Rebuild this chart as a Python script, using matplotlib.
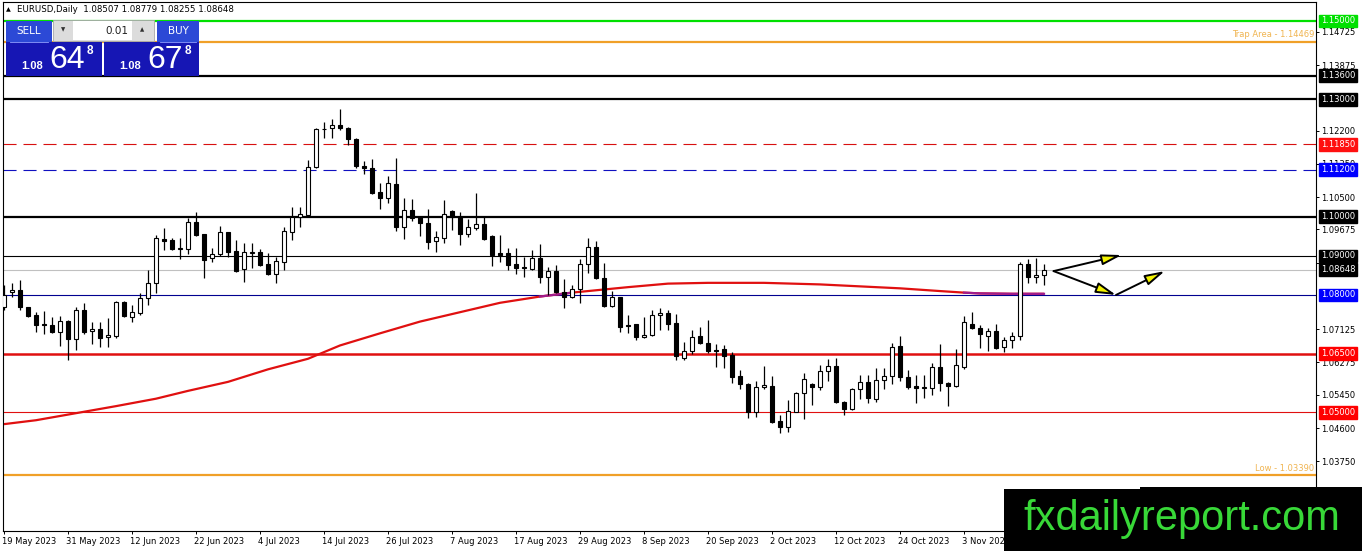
import numpy as np
import matplotlib
matplotlib.use('Agg')
import matplotlib.pyplot as plt
from matplotlib.patches import Rectangle
from matplotlib.transforms import blended_transform_factory

plt.rcParams['lines.scale_dashes'] = False

# EURUSD daily bars, one per weekday from 19 May 2023 to 17 Nov 2023
opens = [1.0769, 1.0807, 1.0813, 1.0769, 1.0748, 1.0725, 1.0723, 1.0706, 1.0734, 1.0687,
         1.0762, 1.0707, 1.0712, 1.0692, 1.0695, 1.0781, 1.0745, 1.0755, 1.0792, 1.0830,
         1.0944, 1.0940, 1.0917, 1.0917, 1.0986, 1.0956, 1.0894, 1.0904, 1.0960, 1.0912,
         1.0866, 1.0907, 1.0909, 1.0879, 1.0853, 1.0885, 1.0962, 1.0998, 1.1004, 1.1128,
         1.1223, 1.1226, 1.1234, 1.1226, 1.1198, 1.1130, 1.1124, 1.1062, 1.1049, 1.1083,
         1.0974, 1.1017, 1.0998, 1.0983, 1.0938, 1.0946, 1.1015, 1.0998, 1.0955, 1.0972,
         1.0981, 1.0951, 1.0906, 1.0906, 1.0878, 1.0871, 1.0866, 1.0894, 1.0845, 1.0862,
         1.0808, 1.0794, 1.0815, 1.0879, 1.0922, 1.0843, 1.0772, 1.0794, 1.0723, 1.0725,
         1.0693, 1.0699, 1.0749, 1.0753, 1.0728, 1.0640, 1.0658, 1.0694, 1.0678, 1.0660,
         1.0661, 1.0647, 1.0593, 1.0573, 1.0502, 1.0564, 1.0567, 1.0478, 1.0463, 1.0502,
         1.0549, 1.0573, 1.0566, 1.0606, 1.0619, 1.0527, 1.0508, 1.0560, 1.0578, 1.0533,
         1.0583, 1.0593, 1.0670, 1.0591, 1.0568, 1.0563, 1.0562, 1.0615, 1.0576, 1.0567,
         1.0617, 1.0726, 1.0715, 1.0696, 1.0708, 1.0666, 1.0685, 1.0695, 1.0879, 1.0845,
         1.08507]
highs = [1.0826, 1.0830, 1.0838, 1.0770, 1.0757, 1.0759, 1.0745, 1.0746, 1.0736, 1.0770,
         1.0779, 1.0732, 1.0732, 1.0740, 1.0785, 1.0785, 1.0774, 1.0804, 1.0864, 1.0953,
         1.0970, 1.0945, 1.0946, 1.0996, 1.1011, 1.0957, 1.0919, 1.0976, 1.0962, 1.0940,
         1.0932, 1.0934, 1.0917, 1.0906, 1.0898, 1.0974, 1.1026, 1.1026, 1.1144, 1.1226,
         1.1243, 1.1250, 1.1275, 1.1230, 1.1200, 1.1142, 1.1147, 1.1085, 1.1105, 1.1149,
         1.1047, 1.1044, 1.1000, 1.1020, 1.0963, 1.1043, 1.1016, 1.1013, 1.0993, 1.1061,
         1.1002, 1.0952, 1.0953, 1.0919, 1.0919, 1.0898, 1.0915, 1.0930, 1.0871, 1.0877,
         1.0840, 1.0826, 1.0892, 1.0945, 1.0939, 1.0881, 1.0810, 1.0796, 1.0749, 1.0727,
         1.0743, 1.0761, 1.0768, 1.0761, 1.0751, 1.0681, 1.0710, 1.0717, 1.0736, 1.0674,
         1.0672, 1.0655, 1.0608, 1.0575, 1.0580, 1.0619, 1.0593, 1.0493, 1.0532, 1.0551,
         1.0600, 1.0576, 1.0621, 1.0636, 1.0638, 1.0528, 1.0563, 1.0595, 1.0595, 1.0614,
         1.0614, 1.0677, 1.0695, 1.0608, 1.0596, 1.0596, 1.0625, 1.0675, 1.0577, 1.0661,
         1.0746, 1.0757, 1.0723, 1.0715, 1.0726, 1.0693, 1.0706, 1.0885, 1.0891, 1.0895,
         1.08779]
lows = [1.0762, 1.0794, 1.0762, 1.0743, 1.0706, 1.0700, 1.0704, 1.0670, 1.0634, 1.0660,
        1.0700, 1.0674, 1.0668, 1.0668, 1.0690, 1.0743, 1.0732, 1.0750, 1.0774, 1.0804,
        1.0915, 1.0914, 1.0891, 1.0905, 1.0950, 1.0844, 1.0885, 1.0900, 1.0896, 1.0858,
        1.0834, 1.0868, 1.0875, 1.0850, 1.0831, 1.0864, 1.0940, 1.0974, 1.0998, 1.1125,
        1.1200, 1.1202, 1.1222, 1.1183, 1.1125, 1.1108, 1.1058, 1.1020, 1.1036, 1.0964,
        1.0942, 1.0990, 1.0951, 1.0917, 1.0911, 1.0934, 1.0966, 1.0928, 1.0949, 1.0966,
        1.0940, 1.0874, 1.0884, 1.0864, 1.0853, 1.0845, 1.0864, 1.0830, 1.0800, 1.0806,
        1.0766, 1.0792, 1.0780, 1.0855, 1.0840, 1.0770, 1.0770, 1.0706, 1.0702, 1.0685,
        1.0690, 1.0695, 1.0710, 1.0710, 1.0634, 1.0634, 1.0650, 1.0674, 1.0653, 1.0617,
        1.0614, 1.0576, 1.0560, 1.0486, 1.0487, 1.0559, 1.0474, 1.0448, 1.0451, 1.0500,
        1.0482, 1.0519, 1.0556, 1.0581, 1.0525, 1.0493, 1.0505, 1.0533, 1.0523, 1.0527,
        1.0559, 1.0573, 1.0580, 1.0560, 1.0523, 1.0536, 1.0544, 1.0555, 1.0517, 1.0565,
        1.0610, 1.0713, 1.0664, 1.0658, 1.0661, 1.0655, 1.0665, 1.0685, 1.0831, 1.0830,
        1.08255]
closes = [1.0800, 1.0813, 1.0769, 1.0747, 1.0724, 1.0723, 1.0706, 1.0734, 1.0687, 1.0762,
          1.0706, 1.0712, 1.0691, 1.0698, 1.0781, 1.0747, 1.0756, 1.0792, 1.0830, 1.0945,
          1.0939, 1.0917, 1.0919, 1.0986, 1.0954, 1.0889, 1.0904, 1.0960, 1.0911, 1.0862,
          1.0909, 1.0909, 1.0877, 1.0853, 1.0888, 1.0964, 1.0998, 1.1006, 1.1128, 1.1223,
          1.1225, 1.1234, 1.1226, 1.1198, 1.1130, 1.1124, 1.1061, 1.1049, 1.1085, 1.0974,
          1.1017, 1.0996, 1.0983, 1.0936, 1.0947, 1.1006, 1.0998, 1.0955, 1.0973, 1.0981,
          1.0943, 1.0902, 1.0902, 1.0877, 1.0870, 1.0870, 1.0894, 1.0845, 1.0862, 1.0808,
          1.0794, 1.0815, 1.0878, 1.0922, 1.0843, 1.0772, 1.0794, 1.0719, 1.0720, 1.0693,
          1.0699, 1.0749, 1.0753, 1.0726, 1.0644, 1.0657, 1.0692, 1.0678, 1.0658, 1.0658,
          1.0645, 1.0591, 1.0572, 1.0502, 1.0564, 1.0570, 1.0476, 1.0463, 1.0504, 1.0549,
          1.0585, 1.0566, 1.0606, 1.0619, 1.0527, 1.0508, 1.0560, 1.0578, 1.0536, 1.0583,
          1.0593, 1.0668, 1.0590, 1.0564, 1.0562, 1.0565, 1.0615, 1.0574, 1.0567, 1.0621,
          1.0730, 1.0715, 1.0700, 1.0708, 1.0665, 1.0685, 1.0696, 1.0879, 1.0845, 1.0851,
          1.08648]

date_labels = ['19 May 2023', '31 May 2023', '12 Jun 2023', '22 Jun 2023', '4 Jul 2023',
               '14 Jul 2023', '26 Jul 2023', '7 Aug 2023', '17 Aug 2023', '29 Aug 2023',
               '8 Sep 2023', '20 Sep 2023', '2 Oct 2023', '12 Oct 2023', '24 Oct 2023',
               '3 Nov 2023']
bars_per_label = 8

# moving average (red curve) at some bars
ma_bars = [0, 4, 9, 14, 19, 23, 28, 33, 38, 42, 47, 52, 57, 62, 67, 71, 74, 78, 83, 88,
           95, 102, 108, 112, 117, 120, 122, 126, 130]
ma_vals = [1.0470, 1.0480, 1.0498, 1.0516, 1.0535, 1.0555, 1.0578, 1.0610, 1.0637, 1.0671,
           1.0702, 1.0732, 1.0756, 1.0780, 1.0796, 1.0806, 1.0812, 1.0820, 1.0829, 1.0831,
           1.0831, 1.0827, 1.0821, 1.0817, 1.0810, 1.0806, 1.0804, 1.0803, 1.0803]

level_prices = [1.15, 1.14469, 1.136, 1.13, 1.1185, 1.112, 1.10, 1.09, 1.08, 1.065, 1.05, 1.0339]
bid, ask = 1.08648, 1.08678
axis_ticks = [1.14725, 1.13875, 1.12200, 1.11350, 1.10500, 1.09675, 1.08825,
              1.07125, 1.06275, 1.05450, 1.04600, 1.03750]

# hand drawn arrows: (bar, price) start -> end
arrows = [((131.2, 1.0861), (139.7, 1.0902)),
          ((131.2, 1.0861), (139.0, 1.0800)),
          ((139.0, 1.0800), (145.1, 1.0861))]

W, H = 1362, 551
fig = plt.figure(figsize=(W / 100, H / 100), dpi=100)
fig.patch.set_facecolor('white')
ax = fig.add_axes([2.7 / W, 1 - 531 / H, (1316 - 2.7) / W, (531 - 2) / H])
ax.set_xlim(-0.16, 164.0)
ax.set_ylim(1.019698, 1.154854)
for s in ax.spines.values():
    s.set_linewidth(0.8)
    s.set_color('black')

o = np.array(opens); h = np.array(highs); l = np.array(lows); c = np.array(closes)
x = np.arange(len(o))
up = c >= o

# levels (styles parallel to level_prices)
level_styles = [
    ('#00e000', 1.6, '-', '#00e000'),
    ('#f0a028', 1.6, '-', None),
    ('black', 1.6, '-', 'black'),
    ('black', 1.6, '-', 'black'),
    ('#d81010', 0.8, (0, (9.4, 5)), '#ff1010'),
    ('#1010c0', 0.8, (0, (9.4, 5)), '#0000ff'),
    ('black', 1.6, '-', 'black'),
    ('black', 0.8, '-', 'black'),
    ('#000090', 0.8, '-', '#0000ff'),
    ('#e01010', 1.8, '-', '#ff0000'),
    ('#e01010', 0.8, '-', '#ff0000'),
    ('#f0a028', 1.6, '-', None),
]
yt = blended_transform_factory(ax.transAxes, ax.transData)
for p, (col, lw, ls, box) in zip(level_prices, level_styles):
    ax.axhline(p, color=col, lw=lw, ls=ls, zorder=1)
    if box:
        ax.text(1.0038, p, f'{p:.5f}', transform=yt, ha='left', va='center', color='white',
                fontsize=6, zorder=10, clip_on=False,
                bbox=dict(boxstyle='square,pad=0.22', fc=box, ec=box))
ax.axhline(bid, color='#c0c0c0', lw=0.8, zorder=1)
ax.text(1.0038, bid, f'{bid:.5f}', transform=yt, ha='left', va='center', color='white',
        fontsize=6, zorder=10, clip_on=False,
        bbox=dict(boxstyle='square,pad=0.22', fc='black', ec='black'))

ax.annotate(f'Trap Area - {level_prices[1]:.5f}', xy=(0.9985, level_prices[1]), xycoords=yt,
            xytext=(0, 2), textcoords='offset points', ha='right', va='bottom',
            color='#f0b450', fontsize=6)
ax.annotate(f'Low - {level_prices[-1]:.5f}', xy=(0.9985, level_prices[-1]), xycoords=yt,
            xytext=(0, 2), textcoords='offset points', ha='right', va='bottom',
            color='#f0b450', fontsize=6)

# moving average; where it sits on the 1.08 line MT4 shows it purple
mb = np.array(ma_bars); mv = np.array(ma_vals)
ax.plot(mb, mv, color='#e01010', lw=1.6, zorder=2, solid_capstyle='butt')
near = np.abs(mv - 1.08) <= 0.00065
ax.plot(mb, np.where(near, mv, np.nan), color='#a01c8c', lw=1.6, zorder=2.1)

# candles
ax.vlines(x, l, h, color='black', lw=0.9, zorder=3)
ax.bar(x, np.abs(c - o), bottom=np.minimum(o, c), width=0.4,
       color=np.where(up, 'white', 'black'), edgecolor='black', linewidth=0.8, zorder=4)

for (x0, y0), (x1, y1) in arrows:
    ax.annotate('', xy=(x1, y1), xytext=(x0, y0),
                arrowprops=dict(arrowstyle='-|>,head_length=1.2,head_width=0.32',
                                fc='#f2f200', ec='black', lw=1.4, shrinkA=0, shrinkB=0),
                zorder=6)

# axes ticks
ax.yaxis.tick_right()
ax.set_yticks(axis_ticks)
ax.set_yticklabels([f'{t:.5f}' for t in axis_ticks])
ax.tick_params(axis='y', length=2.5, width=0.7, pad=1.5, labelsize=6)
tick_pos = [k * bars_per_label for k in range(len(date_labels))]
ax.set_xticks(tick_pos)
ax.set_xticklabels([''] * len(tick_pos))
ax.tick_params(axis='x', length=2.5, width=0.7)
xt = blended_transform_factory(ax.transData, ax.transAxes)
for pos, lab in zip(tick_pos, date_labels):
    ax.text(pos - 0.25, -0.012, lab, transform=xt, ha='left', va='top', fontsize=6,
            clip_on=False)

# overlay in pixel coordinates: header, trade panel, watermark
ov = fig.add_axes([0, 0, 1, 1], facecolor='none')
ov.set_xlim(0, W)
ov.set_ylim(H, 0)
ov.axis('off')

ov.text(6, 10, '▲', fontsize=4.5, va='center', ha='left')
ov.text(17, 10, f'EURUSD,Daily  {opens[-1]:.5f} {highs[-1]:.5f} {lows[-1]:.5f} {closes[-1]:.5f}',
        fontsize=6.2, va='center', ha='left')

btn = '#2c49d6'
ov.add_patch(Rectangle((6, 21), 46, 21, fc=btn, ec='none'))
ov.text(29, 30.5, 'SELL', color='white', fontsize=7.5, ha='center', va='center')
ov.plot([10, 48], [41.5, 41.5], color='#8fa0ff', lw=0.6)
ov.add_patch(Rectangle((157, 21), 42, 21, fc=btn, ec='none'))
ov.text(178, 30.5, 'BUY', color='white', fontsize=7.5, ha='center', va='center')
ov.plot([160, 196], [41.5, 41.5], color='#8fa0ff', lw=0.6)
ov.add_patch(Rectangle((52.5, 20), 101, 21, fc='#dcdcdc', ec='#a8a8a8', lw=0.6))
ov.add_patch(Rectangle((73, 21), 59, 19, fc='white', ec='none'))
ov.text(63, 30, '▼', fontsize=4, ha='center', va='center', color='#303030')
ov.text(142, 30, '▲', fontsize=4, ha='center', va='center', color='#303030')
ov.text(128, 30.5, '0.01', fontsize=7.5, ha='right', va='center', color='#202020')

for x0, wbox, price in [(6, 96, bid), (104, 95, ask)]:
    ov.add_patch(Rectangle((x0, 42), wbox, 34, fc='#1616b4', ec='none'))
    s = f'{price:.5f}'
    ov.text(x0 + 15, 66, s[:4], color='white', fontsize=8, fontweight='bold',
            family='Liberation Sans', ha='left', va='center')
    ov.text(x0 + 43, 59.5, s[4:6], color='white', fontsize=23, family='Liberation Sans',
            ha='left', va='center')
    ov.text(x0 + 81, 51, s[6], color='white', fontsize=8.5, fontweight='bold',
            family='Liberation Sans', ha='left', va='center')

ov.add_patch(Rectangle((1004, 489), 358, 62, fc='black', ec='none'))
ov.add_patch(Rectangle((1140, 486.5), 222, 4, fc='black', ec='none'))
ov.text(1182, 519, 'fxdailyreport.com', family='Liberation Sans', fontsize=30,
        color='#38d838', ha='center', va='center')

fig.savefig('out.png', dpi=100)
